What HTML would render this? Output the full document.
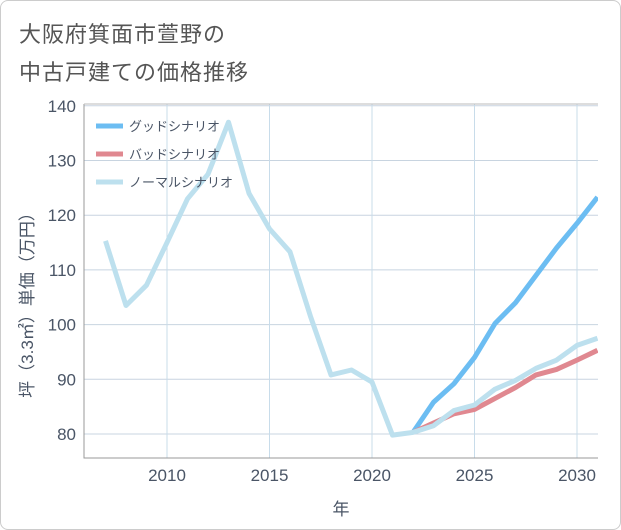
<!DOCTYPE html>
<html><head><meta charset="utf-8"><style>
body{margin:0;background:#fff;font-family:"Liberation Sans","Noto Sans CJK JP",sans-serif}
#wrap{position:relative;width:619px;height:528px;border:1px solid #ccc;border-radius:8px;overflow:hidden}
.title{position:absolute;left:18px;font-size:22px;color:#555;letter-spacing:1px}
</style></head><body>
<div id="wrap">
<div class="title" style="top:16px">大阪府箕面市萱野の</div>
<div class="title" style="top:54px">中古戸建ての価格推移</div>
<svg id="chart" width="621" height="530" style="position:absolute;left:0;top:0"></svg>
</div>
<script>
const years=[2007,2008,2009,2010,2011,2012,2013,2014,2015,2016,2017,2018,2019,2020,2021,2022,2023,2024,2025,2026,2027,2028,2029,2030,2031];
const normalVals=[115.3,103.5,107.2,115,123,127.5,137,124,117.5,113.3,101.5,90.8,91.7,89.5,79.8,80.3,81.5,84.3,85.3,88.2,89.8,92,93.5,96.2,97.5];
const goodYears=[2022,2023,2024,2025,2026,2027,2028,2029,2030,2031];
const goodVals=[80.3,85.8,89.2,94,100.2,104,109,114,118.5,123.3];
const badYears=[2022,2023,2024,2025,2026,2027,2028,2029,2030,2031];
const badVals=[80.3,82,83.7,84.5,86.5,88.5,90.8,91.8,93.5,95.3];
const yTicks=[80,90,100,110,120,130,140];
const xTicks=[2010,2015,2020,2025,2030];
const ns="http://www.w3.org/2000/svg";
const svg=document.getElementById('chart');
const L=83,R=597,T=103,B=457;
const x=v=>166+(v-2010)*20.5;
const y=v=>433-(v-80)*5.47;
function mk(t,a){const e=document.createElementNS(ns,t);for(const k in a)e.setAttribute(k,a[k]);svg.appendChild(e);return e;}
yTicks.forEach(v=>{
 const g=mk('line',{x1:L,x2:R,y1:y(v),y2:y(v),stroke:'#c8d4e0','stroke-width':1});
 
 
 const t=mk('text',{x:L-8,y:y(v)+6,'text-anchor':'end','font-size':17,fill:'#4a5566'});
 t.textContent=v;
 
 
});
xTicks.forEach(v=>{
 const g=mk('line',{x1:x(v),x2:x(v),y1:T,y2:B,stroke:'#c8dcea','stroke-width':1});
 
 
 const t=mk('text',{x:x(v),y:B+23,'text-anchor':'middle','font-size':17,fill:'#4a5566'});
 t.textContent=v;
 
 
});
const ax=mk('path',{d:`M${L},${T}V${B}H${R}`,fill:'none',stroke:'#999','stroke-width':1});


const tp=mk('line',{x1:L,x2:R,y1:T,y2:T,stroke:'#bbb'});


const cp=mk('clipPath',{id:'clip'});
const cr=document.createElementNS(ns,'rect');cr.setAttribute('x',L);cr.setAttribute('y',T-5);cr.setAttribute('width',R-L);cr.setAttribute('height',B-T+5);cp.appendChild(cr);
function line(xs,vs,c,name){
 const p=mk('polyline',{points:xs.map((a,i)=>x(a)+','+y(vs[i])).join(' '),fill:'none',stroke:c,'stroke-width':5,'stroke-linejoin':'round','clip-path':'url(#clip)'});
 
 
}
line(goodYears,goodVals,'#6cbdf2','good-scenario-line');
line(badYears,badVals,'#e08890','bad-scenario-line');
line(years,normalVals,'#bde0ee','normal-scenario-line');
const leg=[['グッドシナリオ','#6cbdf2'],['バッドシナリオ','#e08890'],['ノーマルシナリオ','#bde0ee']];
leg.forEach((l,i)=>{
 const yy=125+i*28;
 const s=mk('line',{x1:95,x2:122,y1:yy,y2:yy,stroke:l[1],'stroke-width':5});
 
 
 const t=mk('text',{x:128,y:yy+5,'font-size':13,fill:'#4a5566'});
 t.textContent=l[0];
 
 
});
const xt=mk('text',{x:(L+R)/2,y:514,'text-anchor':'middle','font-size':17,fill:'#4a5566'});
xt.textContent='年';


const yt=mk('text',{x:0,y:0,'text-anchor':'middle','font-size':17,fill:'#4a5566',transform:`translate(32,${(T+B)/2+20}) rotate(-90)`});
yt.textContent='坪（3.3㎡）単価（万円）';


</script>
</body></html>
